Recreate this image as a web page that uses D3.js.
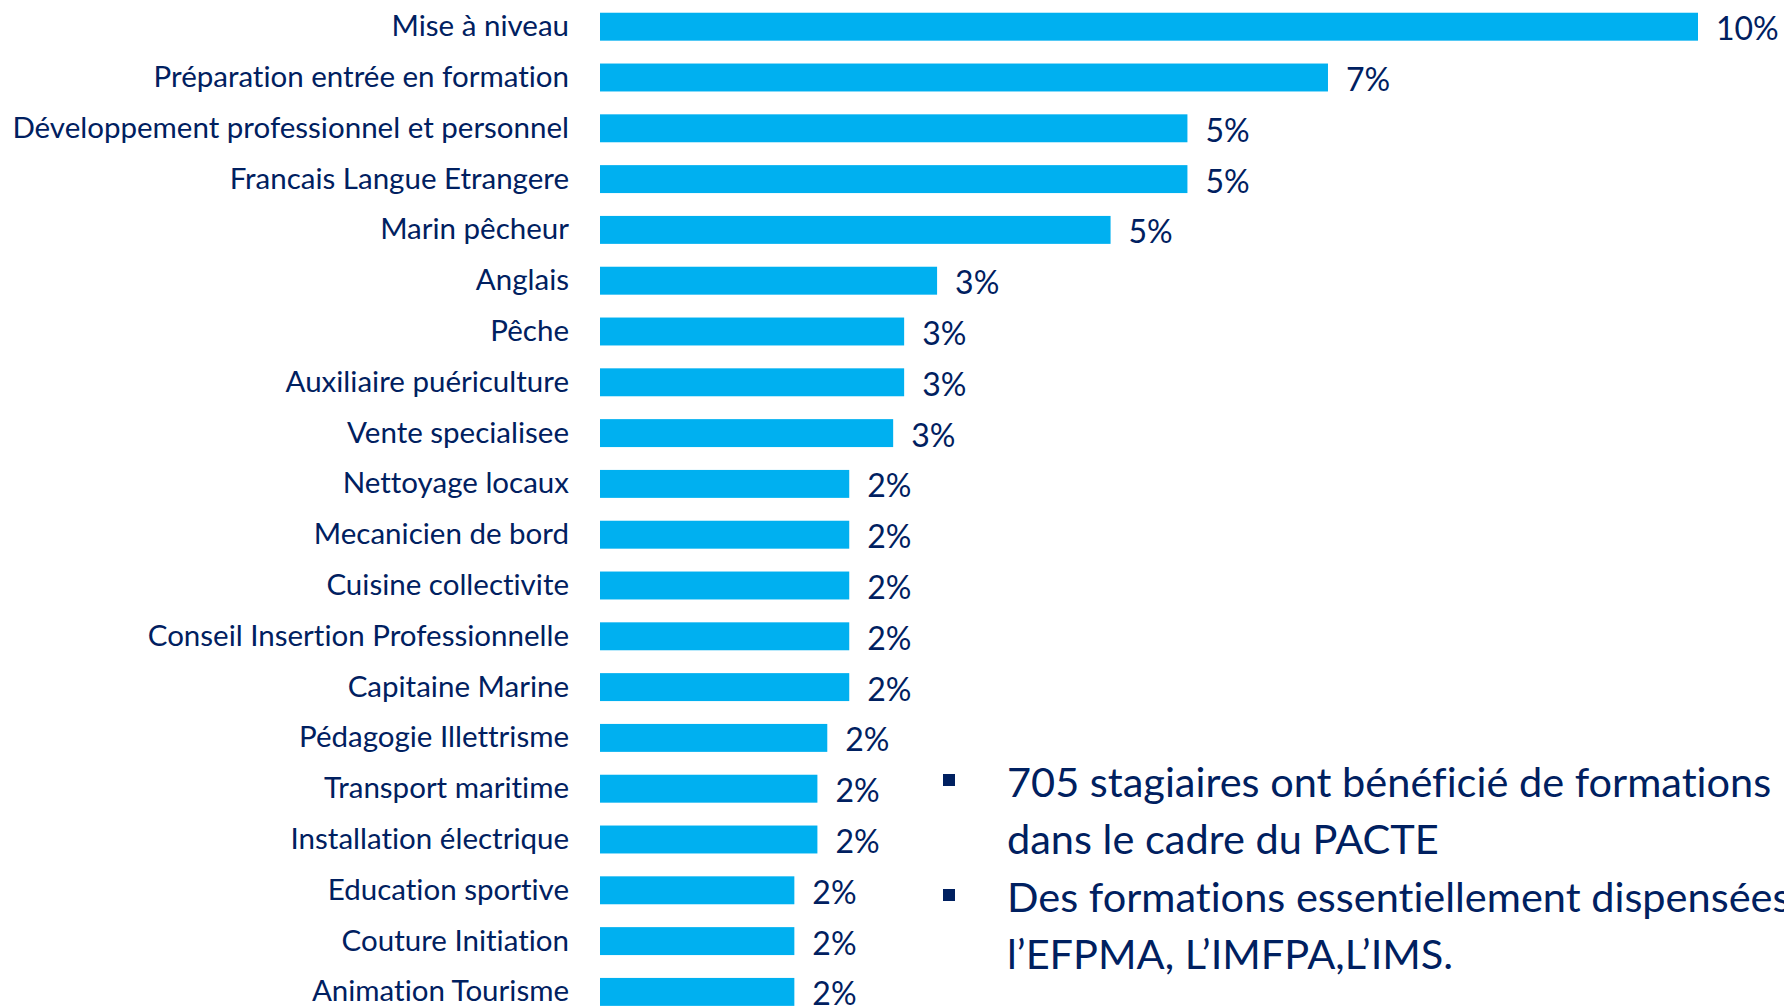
<!DOCTYPE html>
<html>
<head>
<meta charset="utf-8">
<script src="https://cdn.jsdelivr.net/npm/d3@7"></script>
<style>
  html, body { margin: 0; padding: 0; background: #fff; overflow: hidden; }
  text { font-family: Lato, "Open Sans", sans-serif; font-variant-ligatures: none; }
</style>
</head>
<body>
<script>
let width = 1784, height = 1007;

const categories = [
    "Mise à niveau", "Préparation entrée en formation", "Développement professionnel et personnel",
    "Francais Langue Etrangere", "Marin pêcheur", "Anglais", "Pêche", "Auxiliaire puériculture",
    "Vente specialisee", "Nettoyage locaux", "Mecanicien de bord", "Cuisine collectivite",
    "Conseil Insertion Professionnelle", "Capitaine Marine", "Pédagogie Illettrisme",
    "Transport maritime", "Installation électrique", "Education sportive", "Couture Initiation",
    "Animation Tourisme"
];
const values = [10.0, 6.63, 5.35, 5.35, 4.65, 3.07, 2.77, 2.77, 2.67, 2.27,
    2.27, 2.27, 2.27, 2.27, 2.07, 1.98, 1.98, 1.77, 1.77, 1.77];
const notes = [
    ["705 stagiaires ont bénéficié de formations", "dans le cadre du PACTE"],
    ["Des formations essentiellement dispensées par", "l\u2019EFPMA, L\u2019IMFPA,L\u2019IMS."]
];

const data = categories.map((c, i) => ({ name: c, value: values[i] }));

const svg = d3.create("svg")
    .attr("width", width)
    .attr("height", height);

document.body.appendChild(svg.node());

const x = d3.scaleLinear().domain([0, 10]).range([600, 1698]);
const y = d3.scaleBand().domain(categories).range([1.3, 1017.3])
    .paddingInner(0.45).paddingOuter(0.225);

const fmt = v => d3.format(".0f")(v) + "%";

// bars
svg.append("g")
    .selectAll("rect")
    .data(data)
    .join("rect")
    .attr("x", x(0))
    .attr("y", d => y(d.name))
    .attr("width", d => x(d.value) - x(0))
    .attr("height", y.bandwidth())
    .attr("fill", "#00b0f0");

// category labels
svg.append("g")
    .selectAll("text")
    .data(data)
    .join("text")
    .attr("x", 569)
    .attr("y", d => y(d.name) + y.bandwidth() / 2 - 2)
    .attr("text-anchor", "end")
    .attr("dominant-baseline", "central")
    .attr("font-size", 29.5)
    .attr("fill", "#002060")
    .text(d => d.name);

// value labels
svg.append("g")
    .selectAll("text")
    .data(data)
    .join("text")
    .attr("x", d => x(d.value) + 18)
    .attr("y", d => y(d.name) + y.bandwidth() / 2 + 1)
    .attr("dominant-baseline", "central")
    .attr("font-size", 32)
    .attr("fill", "#002060")
    .text(d => fmt(d.value));

// bullet notes
const note = svg.append("g").selectAll("g")
    .data(notes)
    .join("g")
    .attr("transform", (d, i) => `translate(0, ${781 + i * 115})`);

note.append("rect")
    .attr("x", 943)
    .attr("y", -7)
    .attr("width", 12)
    .attr("height", 12)
    .attr("fill", "#002060");

note.selectAll("text")
    .data(d => d)
    .join("text")
    .attr("x", 1007)
    .attr("y", (d, i) => i * 57)
    .attr("dominant-baseline", "central")
    .attr("font-size", 41.5)
    .attr("fill", "#002060")
    .text(d => d);
</script>
</body>
</html>
